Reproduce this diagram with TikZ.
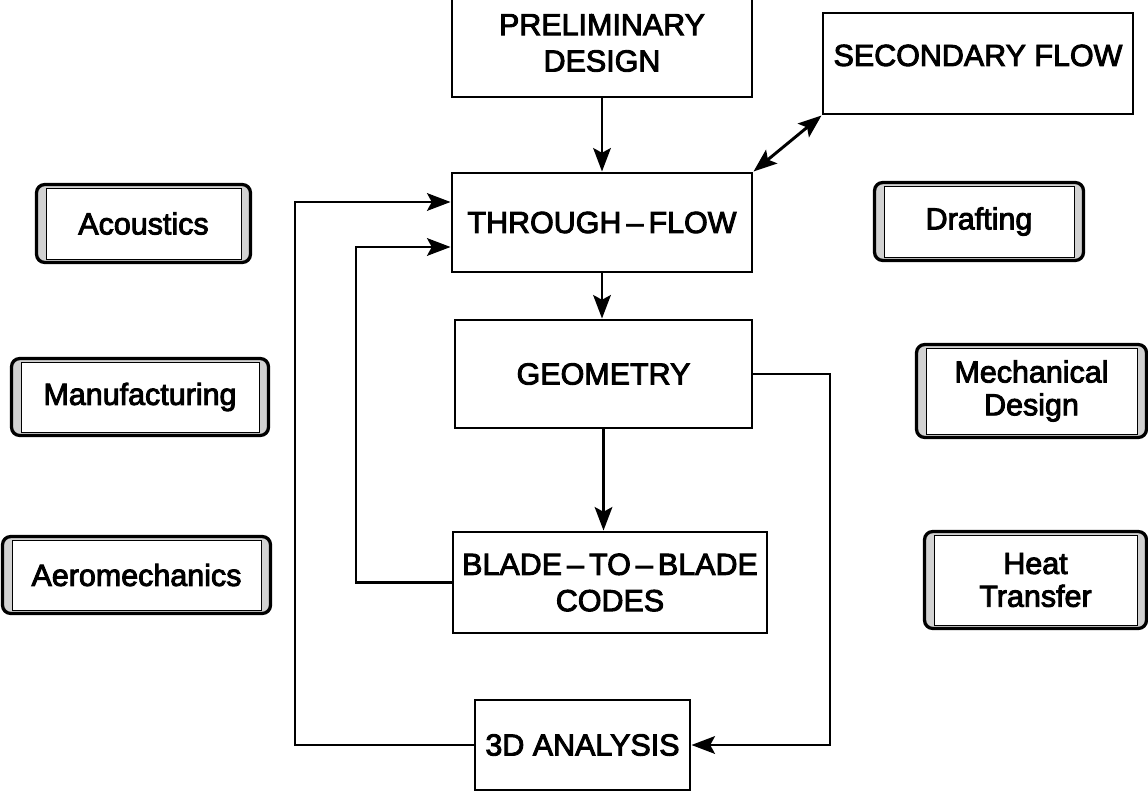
\documentclass[tikz,border=0pt]{standalone}
\usepackage{fontspec}
\setmainfont{Liberation Sans}[FakeBold=3]
\usetikzlibrary{arrows.meta,backgrounds}

\begin{document}
\begin{tikzpicture}[x=0.03cm,y=-0.03cm,line width=2.5pt,
	>={Stealth[length=20pt,width=15pt,inset=4pt]},
	main box/.style={draw,align=center,font=\fontsize{26}{31}\selectfont},
	side box/.style={draw,line width=0.8pt,fill=white,align=center,font=\fontsize{26}{28}\selectfont}]
	
	\useasboundingbox (0,0) rectangle (1148,793);
	
	% centre column
	\node[main box,minimum width=9cm,minimum height=3.24cm] (prelim) at (602,43) {PRELIMINARY\\DESIGN};
	\node[main box,minimum width=9.3cm,minimum height=3.03cm,text depth=14pt] (second) at (978,63.5) {SECONDARY FLOW};
	\node[main box,minimum width=9cm,minimum height=2.97cm] (through) at (602,222.5) {THROUGH\,--\,FLOW};
	\node[main box,minimum width=8.91cm,minimum height=3.24cm] (geom) at (603.5,374) {GEOMETRY};
	\node[main box,minimum width=9.42cm,minimum height=3.03cm] (blade) at (610,582.5) {BLADE\,--\,TO\,--\,BLADE\\CODES};
	\node[main box,minimum width=6.45cm,minimum height=2.7cm] (threed) at (582.5,745) {3D ANALYSIS};
	
	% disciplines
	\node[side box,minimum width=5.85cm,minimum height=2.13cm] (acou) at (143.5,223.5) {Acoustics};
	\node[side box,minimum width=7.14cm,minimum height=2.1cm] (manu) at (140,397) {Manufacturing};
	\node[side box,minimum width=7.47cm,minimum height=2.1cm] (aero) at (136.5,575) {Aeromechanics};
	\node[side box,minimum width=5.7cm,minimum height=2.13cm] (draft) at (979,221.5) {Drafting};
	\node[side box,minimum width=6.33cm,minimum height=2.58cm] (mech) at (1031.5,391) {Mechanical\\Design};
	\node[side box,minimum width=6.09cm,minimum height=2.7cm] (heat) at (1035.5,580) {Heat\\Transfer};
	
	\begin{scope}[on background layer]
		\foreach \n in {acou,manu,aero,draft,mech,heat}
		\draw[line width=2.8pt,rounded corners=7pt,fill=gray!35]
		([shift={(-9,-3)}]\n.north west) rectangle ([shift={(9,3)}]\n.south east);
	\end{scope}
	
	\coordinate (loop1) at (295,202);
	\coordinate (loop2) at (356,247);
	\coordinate (loop3) at (830,745);
	
	\draw[->] (prelim) -- (through);
	\draw[<->] (second.south west) -- (through.north east);
	\draw[->] (through) -- (through |- geom.north);
	\draw[->] (geom) -- (geom |- blade.north);
	\draw[->] (threed.west) -| (loop1) -- (through.west |- loop1);
	\draw[->] (blade.west) -| (loop2) -- (through.west |- loop2);
	\draw[->] (geom.east) -| (loop3) -- (threed.east);
	
\end{tikzpicture}
\end{document}
